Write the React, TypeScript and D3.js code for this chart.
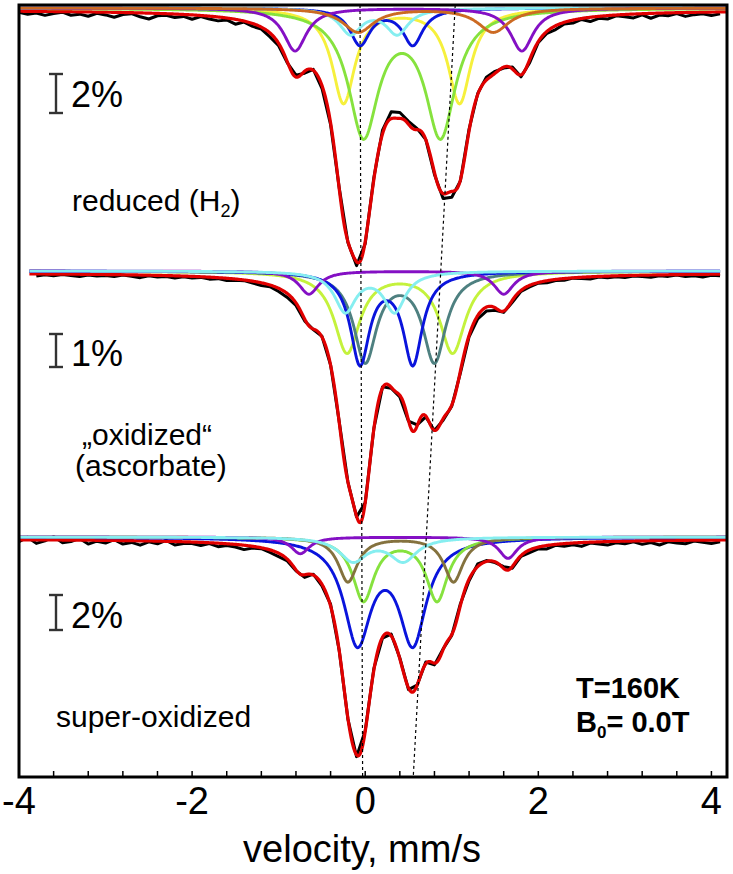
import React from "react";
import * as d3 from "d3";

// ---------------- data ----------------
const velocityDomain = [-4, 4.18];
const majorTicks = [-4, -2, 0, 2, 4];
const minorTicks = [-3.6, -3.2, -2.8, -2.4, -2.0, -1.6, -1.2, -0.8, -0.4, 0, 0.4, 0.8, 1.2, 1.6, 2.0, 2.4, 2.8, 3.2, 3.6, 4.0];
const axisTitle = "velocity, mm/s";

// Lorentzian subspectra: [centre (mm/s), depth (%), half width (mm/s)]
const reducedComponents = {
  yellow: [[-0.25, 4.85, 0.16], [1.09, 4.85, 0.16]],
  green: [[-0.02, 6.4, 0.21], [0.87, 6.4, 0.21]],
  blue: [[-0.06, 1.85, 0.14], [0.55, 1.85, 0.14]],
  cyan: [[-0.17, 1.3, 0.155], [0.37, 1.3, 0.155]],
  purple: [[-0.81, 2.2, 0.16], [1.81, 2.2, 0.16]],
  orange: [[-0.08, 1.23, 0.22], [1.48, 1.23, 0.22]],
};
const oxidizedComponents = {
  lime: [[-0.21, 2.45, 0.18], [1.01, 2.45, 0.18]],
  slate: [[0.0, 2.7, 0.16], [0.8, 2.7, 0.16]],
  blue: [[-0.06, 2.75, 0.135], [0.55, 2.75, 0.135]],
  purple: [[-0.65, 0.7, 0.14], [1.6, 0.7, 0.14]],
  cyan: [[-0.23, 1.2, 0.15], [0.34, 1.2, 0.15]],
};
const superOxidizedComponents = {
  blue: [[-0.09, 5.85, 0.19], [0.55, 5.85, 0.19]],
  green: [[-0.02, 3.6, 0.15], [0.83, 3.6, 0.15]],
  olive: [[-0.2, 2.55, 0.135], [1.02, 2.55, 0.135]],
  purple: [[-0.75, 0.95, 0.13], [1.65, 1.22, 0.13]],
  cyan: [[-0.14, 1.33, 0.19], [0.44, 1.33, 0.19]],
};

// measured minus fit (%), sampled every 0.1 mm/s from -4.0 to 4.2
const reducedResidual = [
  -0.05, -0.15, -0.08, -0.2, -0.1, -0.03, -0.18, -0.12, -0.22, -0.06,
  -0.14, -0.25, -0.1, -0.05, -0.2, -0.3, -0.12, -0.08, -0.18, -0.1,
  -0.22, -0.06, -0.15, -0.2, -0.1, -0.25, -0.05, -0.15, -0.1, -0.2,
  -0.12, -0.05, 0.1, -0.1, 0.05, -0.15, -0.1, 0.05, -0.05, -0.2,
  -0.1, 0.1, 0.2, 0.35, 0.3, 0.15, 0.05, 0.0, -0.1, -0.25,
  -0.3, -0.05, 0.1, 0.05, 0.15, 0.1, -0.05, 0.1, -0.1, -0.15,
  -0.05, -0.1, -0.2, -0.08, -0.15, -0.05, -0.22, -0.1, -0.18, -0.04,
  -0.12, -0.2, -0.06, -0.25, -0.1, -0.15, -0.05, -0.2, -0.12, -0.08,
  -0.18, -0.1, -0.05,
];
const oxidizedResidual = [
  0, -0.03, -0.06, -0.02, -0.05, -0.01, -0.04, -0.07, -0.02, -0.05,
  -0.03, -0.06, -0.01, -0.04, -0.08, -0.02, -0.05, -0.03, -0.07, -0.02,
  -0.05, -0.02, -0.06, -0.03, -0.07, -0.04, -0.02, -0.06, -0.08, -0.05,
  -0.1, -0.12, -0.08, -0.06, -0.02, 0.02, 0, 0.03, 0, -0.02,
  0, 0.02, 0.03, -0.03, -0.05, -0.02, 0.03, -0.03, 0, -0.05,
  -0.03, -0.06, -0.04, -0.1, -0.12, -0.08, -0.04, -0.06, -0.03, -0.05,
  -0.02, -0.06, -0.03, -0.05, -0.01, -0.04, -0.07, -0.02, -0.05, -0.03,
  -0.06, -0.02, -0.04, -0.07, -0.03, -0.05, -0.01, -0.06, -0.04, -0.08,
  -0.03, -0.05, -0.02,
];
const superOxidizedResidual = [
  -0.1, 0.15, -0.2, -0.05, 0.2, -0.15, -0.08, 0.1, -0.22, -0.05,
  -0.15, 0.05, -0.2, -0.1, -0.25, -0.05, -0.15, 0.05, -0.2, -0.1,
  -0.08, -0.18, -0.05, -0.2, -0.1, -0.15, -0.25, -0.1, -0.05, -0.15,
  -0.2, -0.1, -0.05, -0.15, 0.05, -0.1, 0.1, 0.0, -0.05, -0.1,
  0.05, 0.1, -0.05, 0.1, 0.05, -0.1, 0.0, 0.1, -0.1, 0.05,
  -0.05, 0.1, -0.1, 0.15, 0.05, -0.05, 0.1, -0.1, -0.05, -0.15,
  -0.1, -0.2, -0.05, -0.15, -0.1, -0.22, -0.05, -0.12, -0.2, -0.08,
  -0.15, -0.05, -0.2, -0.1, -0.25, -0.08, -0.15, -0.2, -0.05, -0.12,
  -0.2, -0.1, -0.15,
];
const residualStart = -4.0;
const residualStep = 0.1;

const panelTitles = [["reduced (H", "2", ")"], ["„oxidized“", "(ascorbate)"], ["super-oxidized"]];
const scaleBarValues = [2, 1, 2];
const panelRanges = [[-4, 4.18], [-3.88, 4.1], [-4, 4.18]];
// dotted guide lines: velocity at top and at bottom of the plot
const guideTop = [-0.06, 1.04];
const guideBottom = [-0.03, 0.555];
const conditions = ["T=160K", "B", "0", "= 0.0T"];

// ---------------- styles / layout ----------------
const colors = {
  yellow: "#f6f03c",
  green: "#86e23e",
  blue: "#0a14dc",
  cyan: "#86eef0",
  orange: "#cc6a22",
  purple: "#8410c4",
  lime: "#c4f23c",
  slate: "#4e8080",
  olive: "#84723e",
};
const W = 733;
const H = 874;
const box = { left: 19, right: 727, top: 5, bottom: 777 };
const panels = [
  { base: 10, px: 19.5, bar: [74, 113], barText: 107 },
  { base: 273, px: 33, bar: [334, 367], barText: 366 },
  { base: 539, px: 17.5, bar: [595, 630], barText: 628 },
];
const font = "'Liberation Sans', Arial, Helvetica, sans-serif";

type Line = number[];
function lor(v: number, lines: Line[]) {
  let s = 0;
  for (const [c, d, w] of lines) s += d / (1 + ((v - c) / w) ** 2);
  return s;
}

export default function App() {
  const x = d3.scaleLinear().domain(velocityDomain).range([box.left, box.right]);
  const compSets = [reducedComponents, oxidizedComponents, superOxidizedComponents];
  const residuals = [reducedResidual, oxidizedResidual, superOxidizedResidual];

  const panelEls = compSets.map((comps, pi) => {
    const p = panels[pi];
    const y = d3.scaleLinear().domain([0, 1]).range([p.base, p.base + p.px]);
    const [v0, v1] = panelRanges[pi];
    const grid = d3.range(v0, v1 + 1e-9, 0.01);
    const allLines: Line[] = Object.values(comps).flat() as Line[];
    const fit = (v: number) => lor(v, allLines);
    const line = d3.line<[number, number]>().x((d) => x(d[0])).y((d) => y(d[1]));
    const measured: [number, number][] = residuals[pi]
      .map((r, i) => [residualStart + i * residualStep, r] as [number, number])
      .filter(([v]) => v >= v0 - 1e-9 && v <= v1 + 1e-9)
      .map(([v, r]) => [v, fit(v) - r] as [number, number]);
    const fitPts: [number, number][] = grid.map((v) => [v, fit(v)]);
    const yc = d3.scaleLinear().domain([0, 1]).range([p.base - 2, p.base - 2 + p.px]);
    const cline = d3.line<[number, number]>().x((d) => x(d[0])).y((d) => yc(d[1]));
    return (
      <g key={pi}>
        <path d={line(measured) || ""} fill="none" stroke="#000" strokeWidth={3} strokeLinejoin="round" />
        <path d={line(fitPts) || ""} fill="none" stroke="#e00000" strokeWidth={3.2} strokeLinejoin="round" />
        {Object.entries(comps).map(([name, lines]) => (
          <path
            key={name}
            d={cline(grid.map((v) => [v, lor(v, lines as Line[])])) || ""}
            fill="none"
            stroke={(colors as any)[name]}
            strokeWidth={2.9}
          />
        ))}
        <g stroke="#333" strokeWidth={2.4}>
          <line x1={56} x2={56} y1={p.bar[0]} y2={p.bar[1]} />
          <line x1={49} x2={63} y1={p.bar[0]} y2={p.bar[0]} />
          <line x1={49} x2={63} y1={p.bar[1]} y2={p.bar[1]} />
        </g>
        <text x={71} y={p.barText} fontSize={36} fontFamily={font} fill="#000">
          {scaleBarValues[pi]}%
        </text>
      </g>
    );
  });

  return (
    <svg width={W} height={H} style={{ position: "absolute", left: 0, top: 0, background: "#fff" }}>
      <rect x={0} y={0} width={W} height={H} fill="#fff" />
      {panelEls}
      {guideTop.map((vt, i) => (
        <line
          key={i}
          x1={x(vt)}
          y1={box.top}
          x2={x(guideBottom[i])}
          y2={box.bottom}
          stroke="#000"
          strokeWidth={1.2}
          strokeDasharray="3,3"
        />
      ))}
      <text x={72} y={211} fontSize={30} fontFamily={font}>
        {panelTitles[0][0]}
        <tspan fontSize={18} dy={6}>{panelTitles[0][1]}</tspan>
        <tspan dy={-6}>{panelTitles[0][2]}</tspan>
      </text>
      <text x={82} y={445} fontSize={30} fontFamily={font}>{panelTitles[1][0]}</text>
      <text x={75} y={476} fontSize={30} fontFamily={font}>{panelTitles[1][1]}</text>
      <text x={56} y={727} fontSize={30} fontFamily={font}>{panelTitles[2][0]}</text>
      <text x={576} y={698} fontSize={29} fontWeight="bold" fontFamily={font}>{conditions[0]}</text>
      <text x={576} y={732} fontSize={29} fontWeight="bold" fontFamily={font}>
        {conditions[1]}
        <tspan fontSize={17} dy={6}>{conditions[2]}</tspan>
        <tspan dy={-6}>{conditions[3]}</tspan>
      </text>
      <rect
        x={box.left}
        y={box.top}
        width={box.right - box.left}
        height={box.bottom - box.top}
        fill="none"
        stroke="#000"
        strokeWidth={3}
      />
      {minorTicks.map((t) => (
        <line key={t} x1={x(t)} x2={x(t)} y1={box.bottom} y2={box.bottom - 6} stroke="#000" strokeWidth={1.5} />
      ))}
      {majorTicks.map((t) => (
        <text key={t} x={x(t)} y={814} fontSize={38} fontFamily={font} textAnchor="middle">
          {t < 0 ? "-" + Math.abs(t) : String(t)}
        </text>
      ))}
      <text x={362} y={862} fontSize={38} fontFamily={font} textAnchor="middle">
        {axisTitle}
      </text>
    </svg>
  );
}
